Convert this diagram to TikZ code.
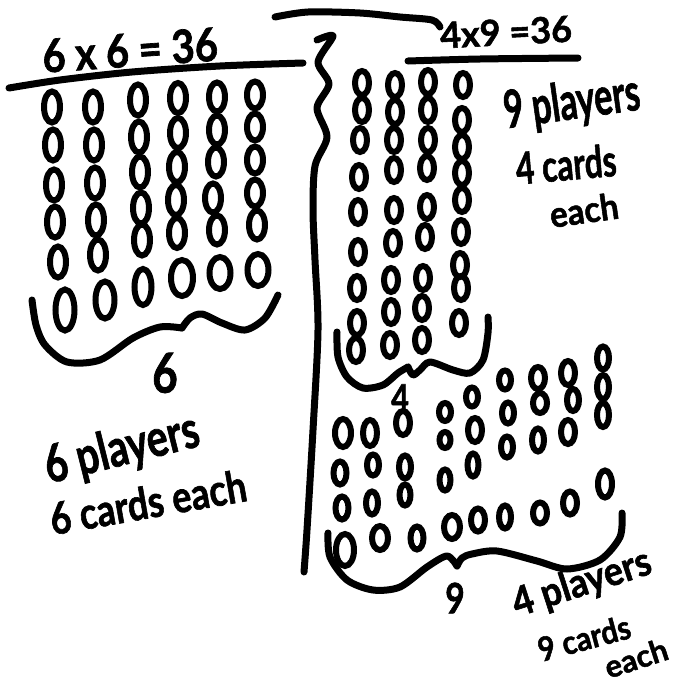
\documentclass[tikz,border=0pt]{standalone}
\usepackage{fontspec}
\usepackage{graphicx}
\setmainfont{Lato}
\newfontfamily\handfont{Lato}[FakeBold=1.5]
\usetikzlibrary{shapes.geometric}
\tikzset{
  stroke/.style={line width=7pt, line cap=round, line join=round},
  card/.style={draw, ellipse, line width=6pt, inner sep=0pt},
  hand/.style={inner sep=0pt, font=\handfont\bfseries},
}
\newcommand\hw[3]{{\fontsize{#1}{#1}\selectfont\scalebox{#2}[1]{#3}}}
\begin{document}
\begin{tikzpicture}[x=1pt,y=1pt]
\useasboundingbox (0,0) rectangle (683,-686);
\fill[white] (0,0) rectangle (683,-686);

% titles
\node[hand, rotate=4] (t66) at (130,-50) {\hw{46}{0.87}{6 x 6 = 36}};
\node[hand, rotate=3] (t49) at (506,-32) {\hw{36}{1.0}{4x9 =36}};
\draw[stroke] plot[smooth] coordinates {(9,-88) (60,-80) (132,-72) (220,-66) (303,-63)};
\draw[stroke] plot[smooth] coordinates {(408,-61) (480,-59) (578,-58)};
\draw[stroke] plot[smooth] coordinates {(275,-17) (308,-12) (360,-13) (400,-17) (432,-20) (440,-27)};

% divider
\draw[stroke] plot[smooth] coordinates {(317,-40) (333,-36) (318,-62) (329,-84) (317,-108) (327,-137) (315,-166) (313,-210) (315,-260) (318,-330) (313,-430) (307,-530) (304,-572)};

% left grid 6 x 6
\foreach \x/\y/\w/\h [count=\i] in {
 52/107/16/31, 53/145/16/31, 54/185/16/31, 55/222/16/31, 58/262/16/31, 65/310/19/41,
 93/107/16/31, 94/145/16/31, 95/183/16/31, 96/220/16/31, 98/255/16/31, 105/300/19/37,
 138/100/16/31, 139/137/16/31, 140/172/16/31, 141/208/16/31, 142/240/16/31, 143/287/17/36,
 178/98/16/30, 178/133/16/30, 177/167/16/30, 176/200/16/30, 177/233/16/30, 182/278/22/36,
 217/97/16/29, 217/130/16/29, 216/162/16/29, 213/198/16/29, 217/230/16/29, 220/273/21/32,
 255/95/16/27, 255/127/16/27, 255/160/16/27, 255/193/16/27, 257/225/16/29, 258/270/21/32}
 \node[card, minimum width=\w pt, minimum height=\h pt] (L\i) at (\x,-\y) {};

% left brace
\draw[stroke] plot[smooth] coordinates {(32,-300) (36,-325) (45,-345) (67,-362) (100,-360) (133,-338) (160,-327) (182,-328)};
\draw[stroke] plot[smooth] coordinates {(182,-328) (190,-318) (202,-314) (222,-323) (245,-330) (265,-318) (278,-295)};
\node[hand] (n6) at (165,-373) {\hw{55}{0.8}{6}};
\node[hand, rotate=14] (p6) at (122,-450) {\hw{52}{0.76}{6 players}};
\node[hand, rotate=10] (c6) at (148,-502) {\hw{44}{0.82}{6 cards each}};

% right top grid 4 x 9
\foreach \x/\y [count=\i] in {
 362/83, 362/110, 360/140, 359/177, 358/212, 358/252, 357/288, 357/323, 356/350,
 395/85, 395/112, 394/140, 394/170, 394/210, 393/243, 391/280, 391/312, 390/345,
 428/82, 428/110, 428/140, 427/168, 427/207, 425/237, 423/278, 422/308, 422/340,
 463/85, 462/120, 462/147, 462/173, 462/200, 461/232, 460/265, 461/288, 459/323}
 \node[card, minimum width=14pt, minimum height=24pt] (R\i) at (\x,-\y) {};

\draw[stroke] plot[smooth] coordinates {(337,-332) (338,-357) (347,-377) (363,-388) (383,-385) (398,-373) (408,-367)};
\draw[stroke] plot[smooth] coordinates {(408,-367) (413,-375) (420,-370) (430,-362) (453,-370) (470,-373) (483,-360) (488,-333) (488,-317)};
\node[hand] (n4) at (400,-398) {\hw{38}{0.8}{4}};
\node[hand, rotate=8] (p9) at (572,-104) {\hw{52}{0.66}{9 players}};
\node[hand, rotate=5] (c4) at (566,-164) {\hw{44}{0.72}{4 cards}};
\node[hand, rotate=8] (e4) at (584,-210) {\hw{36}{0.92}{each}};

% bottom grid 9 x 4
\foreach \x/\y/\w/\h [count=\i] in {
 343/433/16/28, 340/473/13/23, 342/508/13/23, 345/550/18/32,
 370/433/14/26, 373/465/12/21, 372/503/12/23, 380/538/16/24,
 403/423/14/24, 405/467/12/23, 405/495/11/21, 417/538/13/23,
 445/412/12/18, 445/440/11/16, 445/480/11/21, 452/527/16/24,
 472/397/12/19, 475/430/14/24, 473/465/11/23, 478/520/14/23,
 505/380/12/19, 508/413/12/21, 507/447/12/21, 505/517/12/23,
 538/378/14/22, 540/403/14/20, 538/440/12/23, 540/513/14/21,
 568/373/14/24, 573/400/12/22, 568/432/14/24, 570/503/14/23,
 603/358/12/23, 603/387/12/24, 603/415/12/24, 605/484/14/27}
 \node[card, minimum width=\w pt, minimum height=\h pt] (B\i) at (\x,-\y) {};

\draw[stroke] plot[smooth] coordinates {(328,-533) (330,-557) (347,-580) (373,-590) (400,-587) (427,-567) (447,-556) (457,-566)};
\draw[stroke] plot[smooth] coordinates {(457,-566) (462,-558) (472,-554) (497,-551) (537,-561) (567,-569) (600,-560) (620,-537) (622,-513)};
\node[hand] (n9) at (455,-598) {\hw{42}{0.8}{9}};
\node[hand, rotate=18] (p4) at (582,-584) {\hw{40}{0.9}{4 players}};
\node[hand, rotate=15] (c9) at (584,-638) {\hw{33}{0.9}{9 cards}};
\node[hand, rotate=18] (e9) at (636,-658) {\hw{31}{1.0}{each}};
\end{tikzpicture}
\end{document}
